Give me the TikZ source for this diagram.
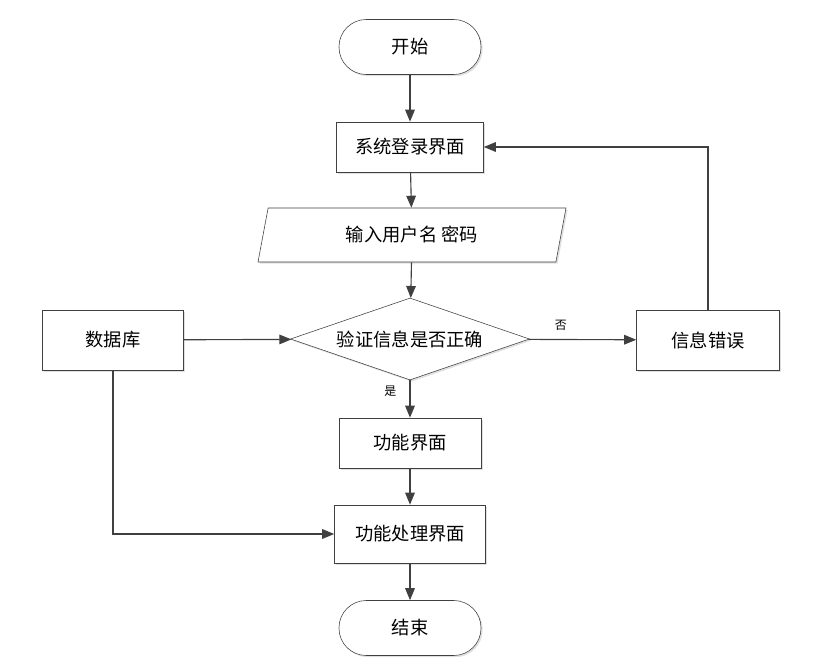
\documentclass[tikz,border=0pt]{standalone}
\usepackage{fontspec}
\usetikzlibrary{arrows.meta,shapes.geometric,shadows}
\newfontfamily\cjk{Noto Sans CJK SC}
\definecolor{ink}{HTML}{404040}
\tikzset{
  box/.style={draw=ink,fill=white,thin,align=center,minimum width=3.55cm,
    minimum height=1.25cm,inner sep=2pt,
    drop shadow={shadow xshift=1.2pt,shadow yshift=-1.2pt,fill=black!12,opacity=1}},
  term/.style={box,rounded corners=0.68cm,minimum height=1.375cm},
  io/.style={box,trapezium,trapezium left angle=66,trapezium right angle=114,
    trapezium stretches body,minimum width=7.7cm,minimum height=1.35cm},
  check/.style={box,diamond,shape aspect=2.9,inner sep=0pt,minimum width=5.975cm,
    minimum height=2.05cm},
  flow/.style={-{Triangle[length=3mm,width=2.4mm]},thick,draw=ink},
  tag/.style={font=\cjk\fontsize{8.5}{10}\selectfont,text=black}
}

\begin{document}
\begin{tikzpicture}[font=\cjk\fontsize{13}{15}\selectfont]
  \useasboundingbox (0,0) rectangle (20.475,-16.725);
  \node[term] (start) at (10.25,-1.175) {开始};
  \node[box,minimum width=3.675cm] (login) at (10.25,-3.675) {系统登录界面};
  \node[io] (input) at (10.3,-5.875) {输入用户名 密码};
  \node[check] (verify) at (10.25,-8.475) {验证信息是否正确};
  \node[box,minimum width=3.525cm,minimum height=1.5cm] (db) at (2.825,-8.5) {数据库};
  \node[box,minimum width=3.575cm,minimum height=1.5cm] (err) at (17.7,-8.5) {信息错误};
  \node[box] (func) at (10.25,-11.075) {功能界面};
  \node[box,minimum width=3.775cm,minimum height=1.45cm] (proc) at (10.25,-13.35) {功能处理界面};
  \node[term] (stop) at (10.25,-15.7) {结束};
  \draw[flow] (start) -- (login);
  \draw[flow] (login) -- (input);
  \draw[flow] (input) -- (verify);
  \draw[flow] (verify) -- node[tag,pos=0.3,above=3pt] (no) {否} (err);
  \draw[flow] (verify) -- node[tag,pos=0.3,left=6pt] (yes) {是} (func);
  \draw[flow] (db) -- (verify);
  \draw[flow] (func) -- (proc);
  \draw[flow] (proc) -- (stop);
  \draw[flow] (err.north) |- (login.east);
  \draw[flow] (db.south) |- (proc.west);
\end{tikzpicture}
\end{document}
